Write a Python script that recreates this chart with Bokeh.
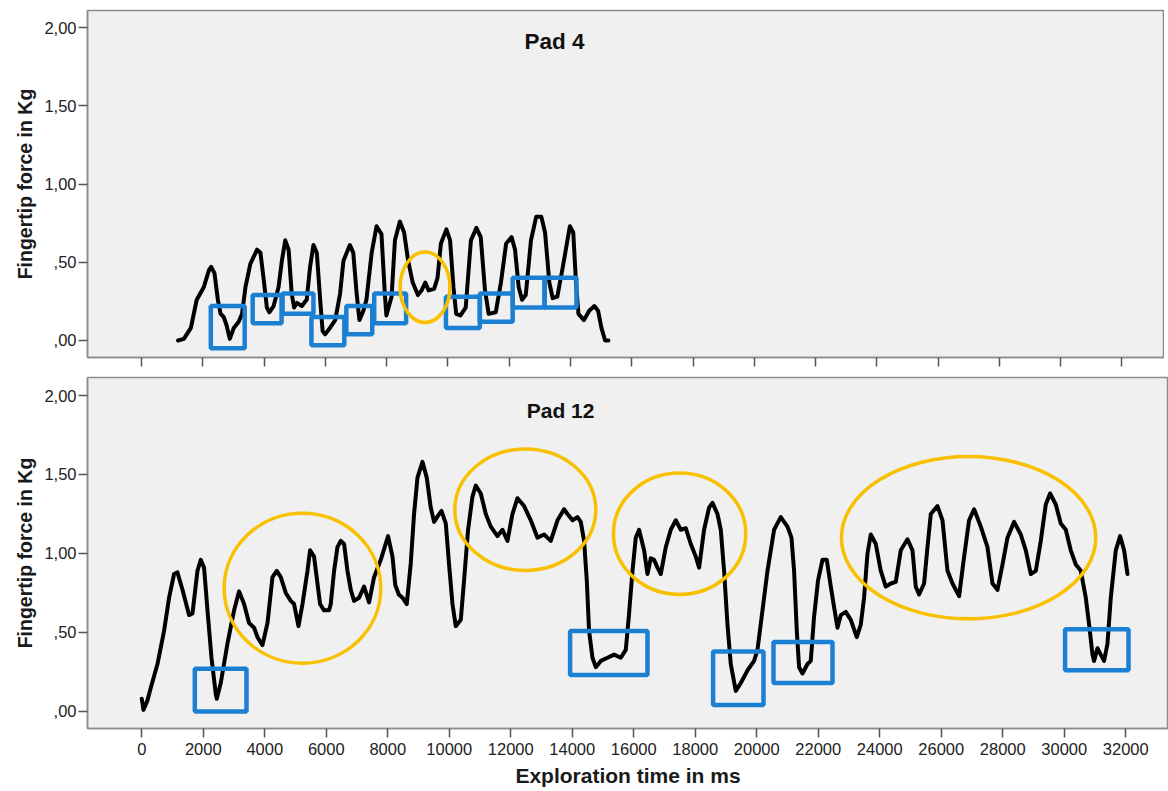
from bokeh.plotting import figure
from bokeh.layouts import column
from bokeh.models import FixedTicker, Range1d, Label, CustomLabelingPolicy
from bokeh.embed import file_html
from bokeh.resources import INLINE

# ---------------- data ----------------
pad4_time = [1190, 1380, 1610, 1800, 2030, 2200, 2270, 2380, 2490, 2580, 2680, 2770, 2880, 3010,
             3170, 3280, 3390, 3550, 3770, 3880, 3980, 4090, 4170, 4310, 4470, 4580, 4690, 4800,
             4900, 4980, 5070, 5230, 5390, 5500, 5610, 5720, 5830, 5910, 5990, 6150, 6320, 6480,
             6590, 6800, 6910, 7020, 7110, 7240, 7340, 7510, 7670, 7830, 7940, 7990, 8160, 8270,
             8430, 8570, 8700, 8850, 9020, 9140, 9260, 9370, 9550, 9660, 9770, 9950, 10070, 10180,
             10270, 10410, 10580, 10750, 10930, 11070, 11210, 11330, 11560, 11730, 11900, 12080,
             12190, 12310, 12420, 12540, 12710, 12880, 13050, 13170, 13310, 13420, 13570, 13750,
             13980, 14090, 14180, 14260, 14440, 14610, 14780, 14900, 15010, 15130, 15240]
pad4_force = [0.00, 0.01, 0.08, 0.26, 0.34, 0.45, 0.47, 0.43, 0.26, 0.17, 0.15, 0.10, 0.01, 0.08,
              0.12, 0.17, 0.34, 0.49, 0.58, 0.56, 0.40, 0.21, 0.18, 0.22, 0.34, 0.51, 0.64, 0.58,
              0.30, 0.21, 0.24, 0.22, 0.26, 0.47, 0.61, 0.56, 0.26, 0.06, 0.04, 0.08, 0.13, 0.30,
              0.51, 0.61, 0.56, 0.30, 0.13, 0.19, 0.26, 0.56, 0.73, 0.68, 0.30, 0.16, 0.28, 0.64,
              0.76, 0.69, 0.51, 0.37, 0.29, 0.32, 0.37, 0.32, 0.33, 0.40, 0.62, 0.71, 0.64, 0.34,
              0.17, 0.16, 0.21, 0.64, 0.72, 0.66, 0.32, 0.17, 0.18, 0.37, 0.62, 0.66,
              0.58, 0.34, 0.26, 0.29, 0.64, 0.79, 0.79, 0.69, 0.37, 0.27, 0.28, 0.47,
              0.73, 0.69, 0.37, 0.17, 0.13, 0.19, 0.22, 0.19, 0.08, 0.00, 0.00]

pad12_time = [0, 55, 185, 293, 511, 725, 888, 1050, 1161, 1324, 1538, 1649, 1811, 1919, 2026,
              2137, 2267, 2407, 2439, 2569, 2787, 3002, 3164, 3327, 3489, 3652, 3763, 3925, 4088,
              4250, 4390, 4520, 4683, 4846, 4953, 5096, 5226, 5389, 5473, 5603, 5714, 5798, 5928,
              6091, 6146, 6254, 6364, 6472, 6579, 6689, 6797, 6904, 7067, 7229, 7392, 7554, 7772,
              8010, 8153, 8244, 8358, 8478, 8618, 8748, 8855, 8966, 9128, 9268, 9398, 9506, 9636,
              9746, 9886, 9993, 10104, 10211, 10374, 10481, 10611, 10754, 10862, 11024, 11187,
              11350, 11567, 11730, 11893, 12055, 12218, 12433, 12650, 12868, 13083, 13301, 13519,
              13733, 13844, 14007, 14169, 14276, 14384, 14472, 14546, 14657, 14764, 14927, 15145,
              15359, 15577, 15740, 15847, 15958, 16065, 16172, 16335, 16445, 16553, 16660, 16771,
              16878, 17041, 17203, 17366, 17528, 17691, 17854, 18016, 18124, 18286, 18449, 18559,
              18722, 18829, 18937, 19047, 19154, 19317, 19480, 19698, 19912, 20023, 20237, 20348,
              20563, 20780, 20998, 21128, 21213, 21301, 21376, 21486, 21649, 21756, 21863, 21993,
              22137, 22276, 22407, 22514, 22624, 22732, 22894, 23057, 23252, 23382, 23489, 23600,
              23707, 23870, 24033, 24195, 24358, 24520, 24683, 24901, 25063, 25171, 25278, 25441,
              25551, 25659, 25876, 26039, 26202, 26364, 26579, 26742, 26904, 27067, 27285, 27502,
              27665, 27827, 27990, 28153, 28368, 28585, 28748, 28911, 29073, 29236, 29398, 29538,
              29724, 29886, 30049, 30211, 30374, 30537, 30699, 30807, 30917, 30969, 31079, 31187,
              31294, 31405, 31512, 31675, 31815, 31945, 32055]
pad12_force = [0.08, 0.01, 0.07, 0.15, 0.30, 0.51, 0.72, 0.87, 0.88, 0.77, 0.61, 0.62, 0.89, 0.96, 0.91,
               0.64, 0.34, 0.11, 0.08, 0.18, 0.43, 0.64, 0.76, 0.68, 0.56, 0.53, 0.47, 0.42, 0.56,
               0.85, 0.89, 0.85, 0.75, 0.70, 0.68, 0.54, 0.68, 0.89, 1.02, 0.98, 0.81, 0.68, 0.64,
               0.64, 0.68, 0.89, 1.04, 1.08, 1.06, 0.89, 0.77, 0.70, 0.72, 0.79, 0.69, 0.85, 0.96,
               1.11, 0.98, 0.80, 0.74, 0.72, 0.68, 0.94, 1.25, 1.48, 1.58, 1.48, 1.29, 1.20, 1.24,
               1.27, 1.19, 0.93, 0.68, 0.54, 0.58, 0.83, 1.15, 1.36, 1.43, 1.38, 1.25,
               1.17, 1.11, 1.15, 1.08, 1.25, 1.35, 1.30, 1.21, 1.10, 1.12, 1.08, 1.21,
               1.28, 1.25, 1.21, 1.23, 1.20, 1.08, 0.83, 0.51, 0.34, 0.28, 0.32, 0.34,
               0.36, 0.34, 0.39, 0.62, 0.89, 1.10, 1.15, 1.02, 0.87, 0.97, 0.96, 0.91,
               0.87, 1.04, 1.15, 1.21, 1.15, 1.16, 1.06, 0.98, 0.91, 1.15, 1.29, 1.32,
               1.25, 1.15, 0.89, 0.55, 0.30, 0.13, 0.18, 0.26, 0.32, 0.39, 0.72, 0.89,
               1.15, 1.23, 1.17, 1.10, 0.89, 0.51, 0.28, 0.24, 0.30, 0.32, 0.60, 0.83,
               0.96, 0.96, 0.79, 0.66, 0.53, 0.61, 0.63, 0.58, 0.47, 0.55, 0.72, 1.00,
               1.12, 1.06, 0.89, 0.79, 0.81, 0.82, 1.02, 1.09, 1.02, 0.79, 0.74, 0.81,
               1.04, 1.25, 1.30, 1.21, 0.89, 0.81, 0.73, 0.98, 1.21, 1.28, 1.17, 1.04,
               0.81, 0.77, 0.93, 1.10, 1.20, 1.12, 1.02, 0.87, 0.89, 1.08, 1.31, 1.38,
               1.31, 1.19, 1.15, 1.02, 0.93, 0.89, 0.72, 0.55, 0.36, 0.32, 0.40, 0.36,
               0.32, 0.43, 0.72, 1.02, 1.11, 1.02, 0.87]

# highlighted regions (centre time, centre force, width in ms, height in kg)
pad4_box_x = [2813, 4098, 5106, 6081, 7106, 8114, 10488, 11577, 12634, 13675]
pad4_box_y = [0.085, 0.20, 0.235, 0.06, 0.13, 0.205, 0.18, 0.21, 0.305, 0.305]
pad4_box_w = [1106, 943, 1008, 1073, 845, 1041, 1106, 1073, 1040, 1041]
pad4_box_h = [0.27, 0.18, 0.13, 0.18, 0.18, 0.19, 0.20, 0.18, 0.19, 0.19]
pad4_ell_x = [9252]
pad4_ell_y = [0.34]
pad4_ell_w = [1626]
pad4_ell_h = [0.45]

pad12_box_x = [2565, 15187, 19399, 21503, 31057]
pad12_box_y = [0.135, 0.37, 0.21, 0.31, 0.39]
pad12_box_w = [1681, 2516, 1639, 1919, 2062]
pad12_box_h = [0.27, 0.28, 0.34, 0.26, 0.26]
pad12_ell_x = [5226, 12472, 17490, 26888]
pad12_ell_y = [0.78, 1.277, 1.125, 1.10]
pad12_ell_w = [5095, 4585, 4303, 8270]
pad12_ell_h = [0.95, 0.77, 0.768, 1.027]

x_ticks = list(range(0, 32001, 2000))
y_ticks = [0, 0.5, 1, 1.5, 2]
y_tick_labels = [",00", ",50", "1,00", "1,50", "2,00"]

# ---------------- styling ----------------
FONT = "Liberation Sans"
BLUE = "#1b7fd2"
GOLD = "#f9c000"
PANEL = "#f0f0f0"
FRAME = "#8c8c8c"
X0, X1 = -1765, 33389


def make_panel(width, height, left, top, bottom, y_range, show_x_labels):
    p = figure(width=width, height=height, output_backend="svg", toolbar_location=None,
               x_range=Range1d(X0, X1), y_range=Range1d(*y_range),
               min_border_left=left, min_border_right=0, min_border_top=top,
               min_border_bottom=bottom)
    p.background_fill_color = PANEL
    p.border_fill_color = "white"
    p.outline_line_color = FRAME
    p.outline_line_width = 1.5
    p.grid.visible = False

    p.xaxis.ticker = FixedTicker(ticks=x_ticks)
    p.yaxis.ticker = FixedTicker(ticks=y_ticks)
    p.yaxis.major_label_overrides = {t: s for t, s in zip(y_ticks, y_tick_labels)}
    for ax in (p.xaxis, p.yaxis):
        ax.axis_line_color = FRAME
        ax.axis_line_width = 1.5
        ax.major_tick_line_color = "#555555"
        ax.major_tick_line_width = 1.5
        ax.major_tick_in = 0
        ax.major_tick_out = 9
        ax.minor_tick_line_color = None
        ax.major_label_text_font = FONT
        ax.major_label_text_font_size = "16.5px"
        ax.major_label_text_color = "#222222"
        ax.axis_label_text_font = FONT
        ax.axis_label_text_font_style = "bold"
        ax.axis_label_text_font_size = "19.5px"
        ax.axis_label_text_color = "#1a1a1a"
    p.yaxis.major_label_standoff = 2
    p.yaxis.axis_label = "Fingertip force in Kg"
    p.yaxis.axis_label_standoff = 5
    if show_x_labels:
        p.xaxis.major_label_standoff = 5
        p.xaxis.axis_label = "Exploration time in ms"
        p.xaxis.axis_label_standoff = 6
        p.xaxis.axis_label_text_font_size = "21px"
    else:
        # tick marks only: no tick labels are painted on the upper panel
        p.xaxis.major_label_policy = CustomLabelingPolicy(code="return []")
        p.xaxis.major_label_text_font_size = "2px"
        p.xaxis.major_label_standoff = 0
    return p


top = make_panel(1164, 370, 83, 10, 13, (-0.109, 2.109), False)
top.line(pad4_time, pad4_force, line_color="black", line_width=4,
         line_join="round", line_cap="round")
top.rect(pad4_box_x, pad4_box_y, pad4_box_w, pad4_box_h, fill_color=None,
         line_color=BLUE, line_width=4.5)
top.ellipse(pad4_ell_x, pad4_ell_y, pad4_ell_w, pad4_ell_h, fill_color=None,
            line_color=GOLD, line_width=3.5)
top.add_layout(Label(x=13480, y=1.91, text="Pad 4", text_font=FONT, text_font_style="bold",
                     text_font_size="22.5px", text_align="center", text_baseline="middle",
                     text_color="#111111"))

bottom = make_panel(1168, 421, 87, 7, 63, (-0.108, 2.114), True)
bottom.line(pad12_time, pad12_force, line_color="black", line_width=4,
            line_join="round", line_cap="round")
bottom.rect(pad12_box_x, pad12_box_y, pad12_box_w, pad12_box_h, fill_color=None,
            line_color=BLUE, line_width=4.5)
bottom.ellipse(pad12_ell_x, pad12_ell_y, pad12_ell_w, pad12_ell_h, fill_color=None,
               line_color=GOLD, line_width=3.5)
bottom.add_layout(Label(x=13620, y=1.905, text="Pad 12", text_font=FONT, text_font_style="bold",
                        text_font_size="21px", text_align="center", text_baseline="middle",
                        text_color="#111111"))

layout = column(top, bottom, spacing=0)
open("out.html", "w").write(file_html(layout, INLINE))
